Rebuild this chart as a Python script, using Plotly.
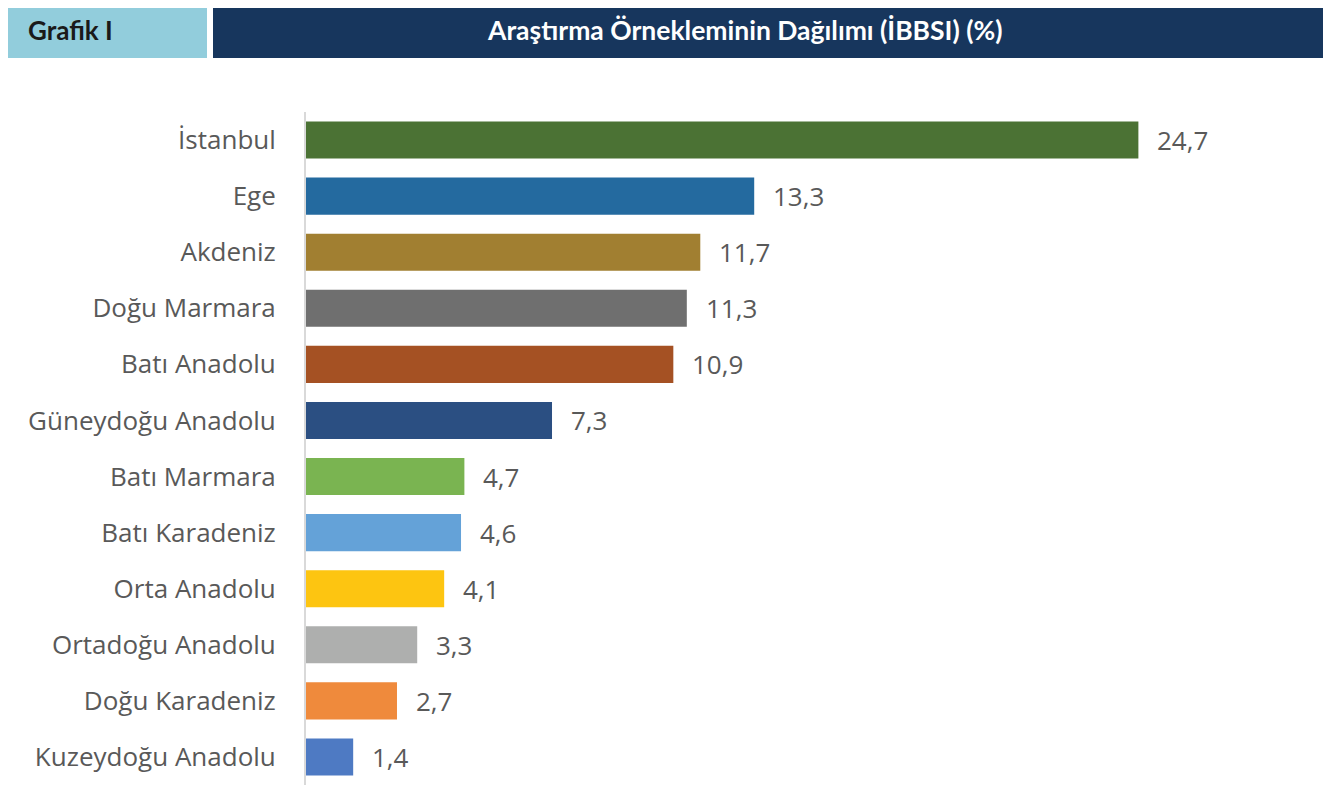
import plotly.graph_objects as go

regions = ["İstanbul", "Ege", "Akdeniz", "Doğu Marmara", "Batı Anadolu",
           "Güneydoğu Anadolu", "Batı Marmara", "Batı Karadeniz", "Orta Anadolu",
           "Ortadoğu Anadolu", "Doğu Karadeniz", "Kuzeydoğu Anadolu"]
values = [24.7, 13.3, 11.7, 11.3, 10.9, 7.3, 4.7, 4.6, 4.1, 3.3, 2.7, 1.4]
colors = ["#4B7234", "#246A9F", "#A17F31", "#6F6F6F", "#A55123", "#2B4F82",
          "#7AB451", "#64A2D8", "#FDC511", "#AEAFAE", "#EF8A3C", "#4E7AC3"]
value_labels = [f"{v:.1f}".replace(".", ",") for v in values]

OFF = 8  # page body margin
W, H = 1339, 785 - OFF
ML, MR, MT, MB = 306 - OFF, 22 + OFF, 112 - OFF, 0
pw, ph = W - ML - MR, H - MT - MB

def px(x):
    return (x - OFF - ML) / pw

def py(y):
    return (H - MB - (y - OFF)) / ph

fig = go.Figure()
fig.add_trace(go.Bar(
    x=values, y=regions, orientation="h",
    marker=dict(color=colors, line=dict(width=0)),
    width=0.66, hoverinfo="skip",
))

for v, r, t in zip(values, regions, value_labels):
    fig.add_annotation(x=v, y=r, text=t, showarrow=False, xanchor="left",
                       xshift=17, font=dict(family="Open Sans", size=26, color="#595959"))

shapes = [
    dict(type="rect", xref="paper", yref="paper", x0=px(7), x1=px(207), y0=py(58), y1=py(3),
         fillcolor="#92CDDC", line=dict(width=0), layer="above"),
    dict(type="rect", xref="paper", yref="paper", x0=px(213), x1=px(1323), y0=py(58), y1=py(3),
         fillcolor="#17365D", line=dict(width=0), layer="above"),
]
fig.add_annotation(xref="paper", yref="paper", x=px(26), y=py(30.5), text="<b>Grafik I</b>",
                   showarrow=False, xanchor="left", yanchor="middle",
                   font=dict(family="Lato", size=26, color="#1A1A1A"))
fig.add_annotation(xref="paper", yref="paper", x=px(744), y=py(30.5),
                   text="<b>Araştırma Örnekleminin Dağılımı (İBBSI) (%)</b>",
                   showarrow=False, xanchor="center", yanchor="middle",
                   font=dict(family="Lato", size=26.5, color="white"))

fig.update_layout(
    width=W, height=H,
    margin=dict(l=ML, r=MR, t=MT, b=MB, pad=0),
    plot_bgcolor="white", paper_bgcolor="white",
    showlegend=False, shapes=shapes,
    xaxis=dict(range=[0, 30], visible=False, showgrid=False, zeroline=False),
    yaxis=dict(categoryorder="array", categoryarray=regions[::-1], autorange=False,
               range=[-0.5, 11.5], showgrid=False, zeroline=False,
               showline=True, linecolor="#D9D9D9", linewidth=2,
               ticks="", ticklabelstandoff=23,
               tickfont=dict(family="Open Sans", size=26, color="#595959")),
)

fig.write_html("out.html")
